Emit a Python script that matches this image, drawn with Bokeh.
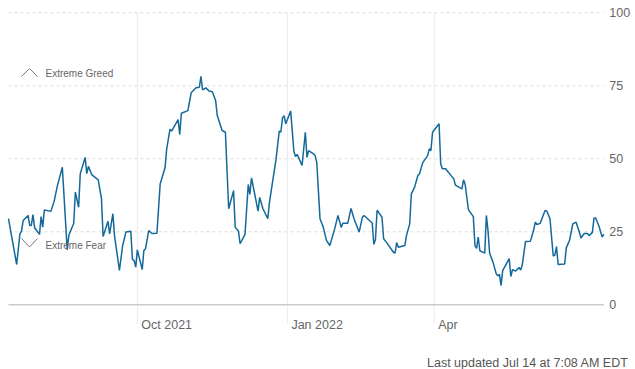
import pandas as pd
from bokeh.plotting import figure
from bokeh.models import Range1d, Label, Arrow, ColumnDataSource
from bokeh.core.properties import value
from bokeh.embed import file_html
from bokeh.resources import INLINE

# ---- data ----
dates = [
    "2021-07-14", "2021-07-19", "2021-07-21", "2021-07-22", "2021-07-23", "2021-07-26", "2021-07-27",
    "2021-07-28", "2021-07-29", "2021-07-30", "2021-08-02", "2021-08-03", "2021-08-04", "2021-08-05",
    "2021-08-09", "2021-08-11", "2021-08-13", "2021-08-16", "2021-08-19", "2021-08-20", "2021-08-23",
    "2021-08-24", "2021-08-26", "2021-08-27", "2021-08-30", "2021-08-31", "2021-09-01", "2021-09-03",
    "2021-09-07", "2021-09-09", "2021-09-10", "2021-09-13", "2021-09-14", "2021-09-16", "2021-09-17",
    "2021-09-20", "2021-09-22", "2021-09-24", "2021-09-27", "2021-09-28", "2021-09-29", "2021-09-30",
    "2021-10-01", "2021-10-04", "2021-10-05", "2021-10-06", "2021-10-08", "2021-10-10", "2021-10-13",
    "2021-10-15", "2021-10-18", "2021-10-19", "2021-10-21", "2021-10-22", "2021-10-26", "2021-10-27",
    "2021-10-28", "2021-11-01", "2021-11-03", "2021-11-06", "2021-11-08", "2021-11-09", "2021-11-10",
    "2021-11-12", "2021-11-14", "2021-11-16", "2021-11-18", "2021-11-19", "2021-11-22", "2021-11-24",
    "2021-11-26", "2021-11-29", "2021-11-30", "2021-12-02", "2021-12-03", "2021-12-06", "2021-12-08",
    "2021-12-09", "2021-12-10", "2021-12-14", "2021-12-15", "2021-12-17", "2021-12-20", "2021-12-21",
    "2021-12-25", "2021-12-27", "2021-12-28", "2021-12-29", "2021-12-30", "2021-12-31", "2022-01-03",
    "2022-01-05", "2022-01-06", "2022-01-07", "2022-01-10", "2022-01-12", "2022-01-13", "2022-01-14",
    "2022-01-17", "2022-01-18", "2022-01-19", "2022-01-21", "2022-01-23", "2022-01-25", "2022-01-27",
    "2022-01-30", "2022-02-01", "2022-02-03", "2022-02-04", "2022-02-07", "2022-02-09", "2022-02-11",
    "2022-02-14", "2022-02-16", "2022-02-17", "2022-02-22", "2022-02-23", "2022-02-24", "2022-02-25",
    "2022-02-28", "2022-03-01", "2022-03-03", "2022-03-07", "2022-03-08", "2022-03-09", "2022-03-10",
    "2022-03-14", "2022-03-15", "2022-03-17", "2022-03-18", "2022-03-20", "2022-03-22", "2022-03-23",
    "2022-03-25", "2022-03-28", "2022-03-29", "2022-03-30", "2022-03-31", "2022-04-04", "2022-04-05",
    "2022-04-06", "2022-04-08", "2022-04-12", "2022-04-13", "2022-04-14", "2022-04-18", "2022-04-19",
    "2022-04-20", "2022-04-22", "2022-04-25", "2022-04-26", "2022-04-27", "2022-04-28", "2022-04-29",
    "2022-05-02", "2022-05-03", "2022-05-04", "2022-05-05", "2022-05-07", "2022-05-09", "2022-05-10",
    "2022-05-11", "2022-05-12", "2022-05-13", "2022-05-16", "2022-05-17", "2022-05-18", "2022-05-19",
    "2022-05-21", "2022-05-23", "2022-05-24", "2022-05-25", "2022-05-27", "2022-05-30", "2022-06-01",
    "2022-06-02", "2022-06-03", "2022-06-05", "2022-06-08", "2022-06-09", "2022-06-11", "2022-06-13",
    "2022-06-14", "2022-06-15", "2022-06-16", "2022-06-20", "2022-06-21", "2022-06-23", "2022-06-25",
    "2022-06-27", "2022-06-29", "2022-06-30", "2022-07-02", "2022-07-04", "2022-07-05", "2022-07-07",
    "2022-07-08", "2022-07-09", "2022-07-11", "2022-07-13", "2022-07-14",
]
values = [
    29.5, 13.8, 24.3, 25.2, 28.9, 30.6, 27.2,
    27.2, 30.9, 26.4, 24.1, 30.2, 26.6, 32.5,
    32.0, 35.5, 40.8, 47.1, 18.8, 23.8, 27.9,
    38.6, 33.4, 44.9, 50.5, 44.9, 47.4, 44.6,
    42.8, 36.4, 23.4, 28.6, 24.3, 31.2, 23.7,
    11.8, 20.3, 24.9, 25.2, 15.5, 15.2, 12.9,
    18.8, 12.1, 18.6, 19.2, 25.4, 24.4, 24.5,
    41.4, 47.0, 53.4, 60.1, 59.5, 63.4, 58.3,
    65.6, 66.5, 72.6, 74.3, 74.5, 78.2, 73.6,
    74.3, 73.2, 73.0, 70.0, 64.8, 59.7, 59.1,
    32.9, 39.1, 26.6, 25.2, 20.9, 24.1, 41.2,
    37.8, 43.5, 32.1, 36.8, 32.9, 29.5, 35.1,
    49.7, 59.5, 59.1, 64.0, 64.8, 62.0, 66.4,
    52.5, 50.8, 51.5, 47.7, 59.1, 50.5, 52.8,
    51.7, 51.1, 48.8, 29.5, 26.6, 22.0, 20.3,
    26.0, 30.6, 26.5, 27.9, 27.9, 33.0, 29.2,
    24.9, 30.0, 30.6, 28.0, 20.7, 22.4, 32.4,
    30.0, 22.6, 21.2, 18.0, 17.7, 21.3, 19.7,
    20.3, 23.7, 27.7, 38.0, 40.3, 44.3, 44.9,
    48.7, 51.1, 53.4, 52.8, 59.1, 62.0, 48.3,
    46.6, 46.6, 43.8, 43.2, 41.0, 39.7, 42.8,
    41.2, 32.6, 30.2, 20.3, 19.3, 23.2, 18.5,
    17.7, 30.6, 25.4, 17.7, 14.7, 10.7, 9.9,
    10.5, 6.6, 11.7, 14.8, 15.8, 9.7, 12.0,
    11.6, 12.8, 11.9, 13.6, 21.7, 21.8, 25.6,
    28.3, 27.5, 27.9, 32.3, 32.1, 29.5, 16.7,
    17.0, 19.9, 13.8, 14.0, 19.5, 22.1, 27.7,
    28.3, 24.9, 22.9, 24.4, 24.4, 23.7, 24.8,
    29.7, 29.7, 27.0, 23.2, 24.2,
]
x_start, x_end = "2021-07-14", "2022-07-14"
x_tick_dates = ["2021-10-01", "2022-01-01", "2022-04-01"]
x_tick_labels = ["Oct 2021", "Jan 2022", "Apr"]
y_ticks = [0, 25, 50, 75, 100]
y_grid_ticks = [25, 50, 75, 100]
zone_names = ["Extreme Greed", "Extreme Fear"]
footer_text = "Last updated Jul 14 at 7:08 AM EDT"

# ---- layout (pixels) ----
W, H = 635, 369
LEFT_PX, RIGHT_PX = 8, 603.3      # where the time span starts / ends
TOP_PX, ZERO_PX = 12.3, 304.3     # where 100 and 0 sit
TICK_PX = 19                      # vertical gridline extension below baseline

FONT = "Liberation Sans"
TXT = "#666666"
LINE = "#14699a"
GRID = "#ebebeb"

t0, t1 = pd.Timestamp(x_start), pd.Timestamp(x_end)
span = t1 - t0
plot_w = RIGHT_PX - LEFT_PX
unit_px = (ZERO_PX - TOP_PX) / 100.0

p = figure(
    width=W, height=H,
    x_axis_location=None, y_axis_location=None,
    x_range=Range1d(t0 - span * (LEFT_PX / plot_w), t1 + span * ((W - RIGHT_PX) / plot_w)),
    y_range=Range1d(-(H - ZERO_PX) / unit_px, 100 + TOP_PX / unit_px),
    min_border=0, min_border_left=0, min_border_right=0, min_border_top=0, min_border_bottom=0,
    output_backend="svg", toolbar_location=None,
)
p.outline_line_color = None
p.grid.visible = False
p.background_fill_color = "white"
p.border_fill_color = "white"

tick_x = pd.to_datetime(x_tick_dates)

# dashed horizontal gridlines
p.segment(x0=[t0] * len(y_grid_ticks), x1=[t1] * len(y_grid_ticks), y0=y_grid_ticks, y1=y_grid_ticks,
          line_color="#dcdcdc", line_width=1, line_dash="3 3")
# vertical gridlines at the x ticks, extending below the baseline
p.segment(x0=tick_x, x1=tick_x, y0=[-TICK_PX / unit_px] * len(tick_x), y1=[100] * len(tick_x),
          line_color=GRID, line_width=1)
# baseline at 0
p.segment(x0=[t0], x1=[t1], y0=[0], y1=[0], line_color="#cccccc", line_width=1.5)

# the index line
src = ColumnDataSource(dict(x=pd.to_datetime(dates), y=values))
p.line("x", "y", source=src, line_color=LINE, line_width=1.5)

# right-hand value labels
p.text(x=[t1] * len(y_ticks), y=y_ticks, text=[str(v) for v in y_ticks], x_offset=5.5,
       text_font=value(FONT), text_font_size="12.5px", text_color=TXT,
       text_align="left", text_baseline="middle")

# x tick labels, left aligned next to the gridline
p.text(x=tick_x, y=[0] * len(tick_x), text=x_tick_labels, x_offset=4, y_offset=19.7,
       text_font=value(FONT), text_font_size="12.5px", text_color=TXT,
       text_align="left", text_baseline="alphabetic")

# zone markers (chevrons + labels), positions in screen pixels from bottom-left
chev = ColumnDataSource(dict(
    x0=[21, 29, 21, 29], y0=[H - 76, H - 68, H - 238, H - 246.5],
    x1=[29, 37, 29, 37], y1=[H - 68, H - 76, H - 246.5, H - 238],
))
p.add_layout(Arrow(end=None, source=chev, x_start="x0", y_start="y0", x_end="x1", y_end="y1",
                   start_units="screen", end_units="screen", line_color="#777777", line_width=1))
for name, yy in zip(zone_names, [H - 73.3, H - 244.5]):
    p.add_layout(Label(x=45, y=yy, x_units="screen", y_units="screen", text=name,
                       text_font=FONT, text_font_size="10px", text_color=TXT, text_baseline="middle"))

# footer
p.add_layout(Label(x=628, y=H - 362.3, x_units="screen", y_units="screen", text=footer_text,
                   text_font=FONT, text_font_size="12.5px", text_color="#555555",
                   text_align="right", text_baseline="alphabetic"))

open("out.html", "w").write(file_html(p, INLINE))
